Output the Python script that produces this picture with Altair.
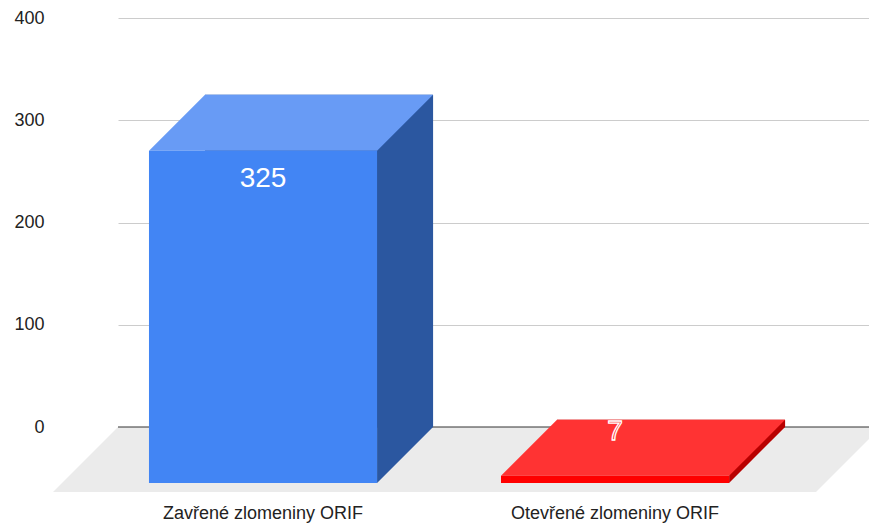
import altair as alt
import pandas as pd

categories = ["Zavřené zlomeniny ORIF", "Otevřené zlomeniny ORIF"]
values = [325, 7]
front_colors = ["#4285F4", "#FF0000"]
top_colors = ["#689BF5", "#FF3333"]
side_colors = ["#2B57A0", "#B80000"]
y_ticks = [0, 100, 200, 300, 400]

# layout / style
W, H = 751, 409
DEPTH = 56          # 3D depth of bars in px
FLOOR = 65          # 3D depth of floor in px
P_IN, P_OUT, ALIGN = 0.352, 0.2427, 0.509
bw = W * (1 - P_IN) / (2 - P_IN + 2 * P_OUT)
FONT = "Liberation Sans"

df = pd.DataFrame({"cat": categories, "v": values, "front": front_colors,
                   "top": top_colors, "side": side_colors})

xscale = alt.Scale(domain=categories, paddingInner=P_IN, paddingOuter=P_OUT,
                   align=ALIGN, round=False)
yscale = alt.Scale(domain=[0, 400], nice=False, zero=True)

x_axis = alt.Axis(title=None, labelOffset=-DEPTH, labelPadding=91, ticks=False,
                  tickSize=0, domain=False, labelAngle=0, labelFont=FONT, labelLimit=0,
                  labelFontSize=18, labelColor="#222222", labelBaseline="alphabetic")
y_axis = alt.Axis(title=None, values=y_ticks, domain=False, ticks=False, tickSize=0,
                  labelPadding=74, gridColor="#CCCCCC", gridWidth=1, labelFont=FONT,
                  labelFontSize=18, labelColor="#222222")

x_enc = alt.X("cat:N", sort=categories, scale=xscale, axis=x_axis)
y_enc = alt.Y("v:Q", scale=yscale, axis=y_axis)

base = alt.Chart(df)

floor = alt.Chart(pd.DataFrame({"v": [0]})).mark_point(
    shape=f"M0,0L{W + 12},0L{W + 12 - FLOOR},{FLOOR}L{-FLOOR},{FLOOR}Z",
    size=4, filled=True, opacity=1, color="#EBEBEB", strokeWidth=0
).encode(x=alt.value(0), y=alt.Y("v:Q", scale=yscale, axis=y_axis))

zero_line = alt.Chart(pd.DataFrame({"v": [0]})).mark_rule(
    color="#333333", strokeWidth=1
).encode(y=alt.Y("v:Q", scale=yscale, axis=y_axis), x=alt.value(0), x2=alt.value(W))

side_color = alt.Color("side:N", scale=None)
top_color = alt.Color("top:N", scale=None)
front_color = alt.Color("front:N", scale=None)

back = base.mark_bar(opacity=1, strokeWidth=0).encode(
    x=x_enc, y=y_enc, color=side_color)

bottom_tri = base.mark_point(
    shape=f"M0,0L{-DEPTH},{DEPTH}L{-DEPTH},0Z", size=4, filled=True, opacity=1, strokeWidth=0
).encode(x=alt.X("cat:N", sort=categories, scale=xscale, axis=x_axis, bandPosition=1),
         y=alt.datum(0), color=side_color)

top = base.mark_point(
    shape=f"M0,0L{bw:.2f},0L{bw - DEPTH:.2f},{DEPTH}L{-DEPTH},{DEPTH}Z",
    size=4, filled=True, opacity=1, strokeWidth=0
).encode(x=alt.X("cat:N", sort=categories, scale=xscale, axis=x_axis, bandPosition=0),
         y=y_enc, color=top_color)

front = base.mark_bar(
    opacity=1, strokeWidth=0, xOffset=-DEPTH, x2Offset=-DEPTH, yOffset=DEPTH, y2Offset=DEPTH
).encode(x=x_enc, y=y_enc, color=front_color)

label_big = base.transform_filter("datum.v > 50").mark_text(
    font=FONT, fontSize=28, color="white", dx=-DEPTH, dy=84, baseline="middle"
).encode(x=x_enc, y=y_enc, text="v:Q")

label_small = base.transform_filter("datum.v <= 50").mark_text(
    font=FONT, fontSize=28, stroke="white", strokeWidth=1.3,
    dx=-DEPTH, dy=12, baseline="middle"
).encode(x=x_enc, y=y_enc, text="v:Q", color=top_color)

chart = alt.layer(
    floor, zero_line, back, bottom_tri, top, front, label_big, label_small
).properties(
    width=W, height=H,
    padding={"left": 110, "top": 10, "right": 0, "bottom": 96},
    autosize=alt.AutoSizeParams(type="none"),
    background="white",
).configure_view(stroke=None)

chart.save("out.html", embed_options={"renderer": "svg", "actions": False})
